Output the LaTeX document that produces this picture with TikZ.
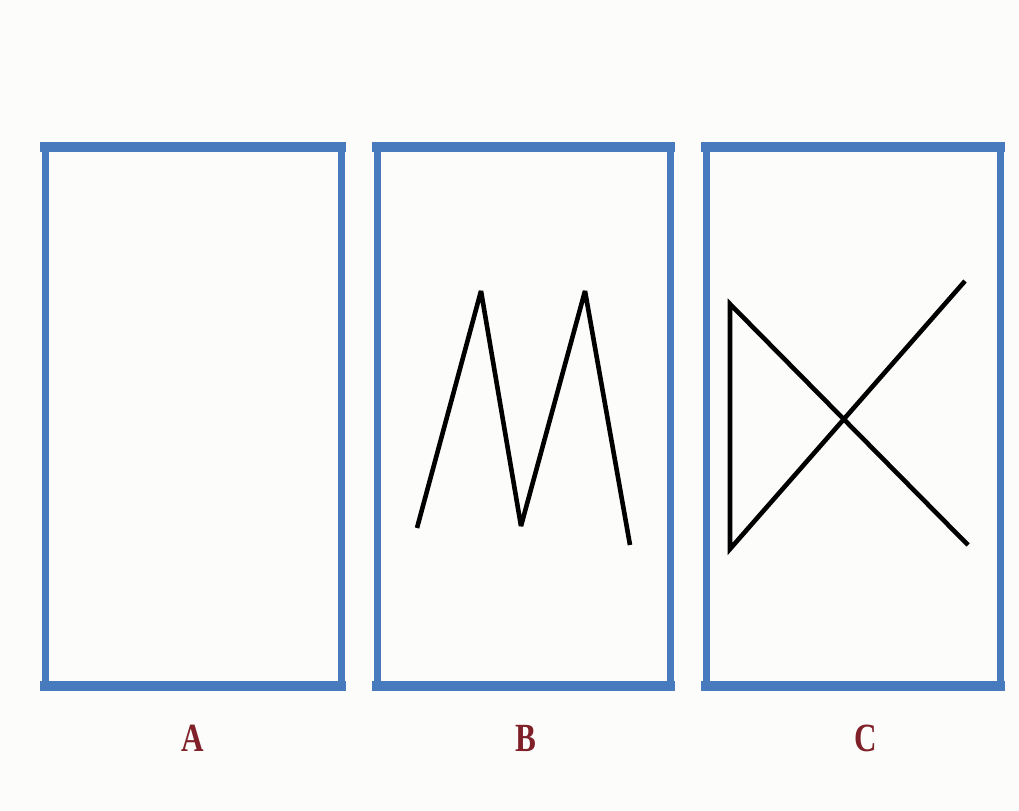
\documentclass[tikz,border=0pt]{standalone}
\usepackage{fontspec}
\setmainfont{Liberation Serif}
\usetikzlibrary{positioning}
\definecolor{framblue}{RGB}{72,122,190}
\definecolor{labred}{RGB}{128,32,40}
\definecolor{paper}{RGB}{252,253,250}
\tikzset{
  frameside/.style={draw=framblue,line width=3.5pt},
  frameedge/.style={draw=framblue,line width=5pt,line cap=rect},
  stroke/.style={draw=black,line width=2.3pt,line join=miter,miter limit=4},
  lab/.style={font=\fontsize{20}{20}\selectfont\bfseries,text=labred,
    xscale=0.78,transform shape,inner sep=0pt}
}
\begin{document}
\begin{tikzpicture}[x=0.5pt,y=-0.5pt]
  \fill[paper] (0,0) rectangle (1019,810);
  \useasboundingbox (0,0) rectangle (1019,810);
  % the three frames
  \foreach \l/\r in {45/341,377/670,706/1000}{
    \draw[frameside] (\l,147) -- (\l,686);
    \draw[frameside] (\r,147) -- (\r,686);
    \draw[frameedge] (\l,147) -- (\r,147);
    \draw[frameedge] (\l,686) -- (\r,686);
  }
  % B: zigzag
  \draw[stroke] (417,528) -- (481,291) -- (521,526) -- (585,291) -- (630,545);
  % C: triangle and cross
  \draw[stroke] (968,545) -- (730,304) -- (730,549) -- (965,281);
  % labels
  \node[lab] (labA) at (193,738) {A};
  \node[lab] (labB) at (526,738) {B};
  \node[lab] (labC) at (866,738) {C};
\end{tikzpicture}
\end{document}
